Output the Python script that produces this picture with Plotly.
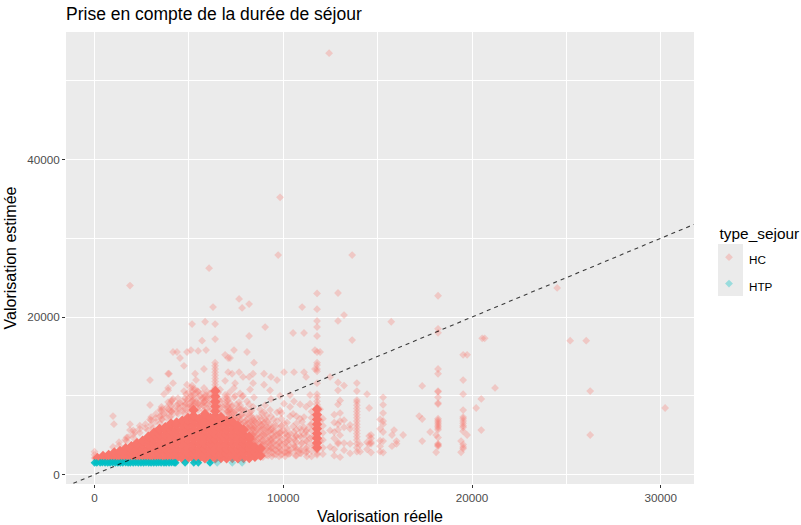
import plotly.graph_objects as go

# HC: one x per column, list of y read at that x (tariff stripes share an x)
hc_x = [
    0, 980, 1030, 1620, 1780, 1880, 2150, 2840, 2940, 3100, 3470, 3580, 3680, 3900, 3950, 4000, 4100, 4160,
    4370, 4530, 4740, 4800, 4850, 4900, 5060, 5110, 5170, 5330, 5380, 5490, 5590, 5700, 5800, 5860, 5910,
    6070, 6120, 6280, 6390, 6650, 6920, 7080, 7180, 7290, 7390, 7450, 7660, 7710, 7820, 7870, 8080, 8190,
    8240, 8400, 8450, 8770, 8980, 9040, 9300, 9350, 9670, 9730, 9830, 10040, 10360, 10520, 10570, 10890,
    11000, 11100, 11210, 11420, 11680, 11790, 11950, 12430, 12480, 12900, 13010, 13220, 13540, 13650, 13900,
    14070, 14440, 14550, 14650, 15130, 15290, 15720, 15760, 15870, 16000, 16350, 17200, 17360, 17780, 18100,
    18200, 19420, 19530, 19740, 20220, 20490, 20540, 20670, 21220, 24510, 25200, 26050, 26260, 30230,
]
hc_y = [
    [2100, 2500, 2900], [7430, 3500], [6400], [4380], [4760], [24000, 6400, 5650], [5400], [5650], [12000, 8830, 7000], [5900],
    [8200, 7400, 6500], [8300, 7000], [10200, 7700], [12800, 11000, 10700, 9200, 8300], [12800], [9000, 8100, 7300], [9460, 8000], [15560, 11600, 9590, 8300],
    [15560, 8800, 7900], [14800, 9100, 8400], [13800, 10600, 7800], [8830, 9700], [10200, 9000, 8200], [15560, 11400, 9500], [8700, 7800], [15800, 11000, 10000], [19100, 11300, 9300, 8600], [12800, 10800, 9100], [12000, 10400, 9300], [15700, 10500, 9000, 8200], [8800, 10000], [17000, 9700], [13400, 11000, 9200], [19400, 9400], [15800, 9800, 10100],
    [26200, 9000, 8200], [9600, 10300], [21270, 10600], [19100, 17200, 14200, 13800, 13400, 13000, 12600, 12200, 11800, 11400, 11000, 10600, 10200, 9800, 9400], [10800, 9300, 8500], [15200, 11900, 10100, 8800], [14800, 13000, 9500, 8000], [14800, 10500, 9100, 8300], [12800, 8700, 7700], [15800, 11000, 9800, 7200], [11600, 10000, 8000], [22300, 13000, 9200, 8400, 7400], [10300, 8800, 6900], [21150, 9900, 7600, 6400], [12400, 10000, 8200], [15560, 9300, 7000, 5900],
    [21650, 17590, 12400, 8900, 7500, 6600, 5700], [10800, 7900, 6200, 5100], [12800, 11600, 8600, 7100, 5800, 4900, 4200], [14200, 9800, 6800, 6100, 5300, 4400, 3800], [8300, 7300, 6400, 5600, 4700, 3900, 3300], [12800, 11400, 7900, 6600, 5000, 4200, 3000], [18730, 8800, 7100, 5900, 5200, 3700], [10700, 8200, 6300, 5500, 4600, 3900, 3100], [12400, 9600, 7400, 5700, 4300, 3400], [12000, 7900, 6800, 5000, 3700, 2900], [27870], [35200, 10000, 8100, 6000, 5300, 4200, 3300], [13000, 9000, 6500, 5600, 3900, 2800], [10100, 8600, 7400, 5200, 4400, 3100, 2700], [17970, 7700, 6100, 3800], [13000, 9300, 5400, 4600, 3500], [8900, 7100, 5900, 4900, 3100, 2700],
    [21270, 6700, 4000], [17970, 13000, 7300, 6000, 5100], [12400, 8600, 5500, 4300, 3300, 2800], [10100, 9000, 6300, 4600], [15800, 13400, 5900, 4800, 3700], [23000, 21000, 19500, 18730, 17590, 15560, 14200, 13900, 13400, 13100, 11600, 10200, 9800, 9300, 8900, 8500, 8100, 7700, 7300, 6900, 6500, 6100, 5700, 5300, 4900, 4600, 4300, 4000, 3700, 3400, 3100, 2700, 2500, 4500, 5100, 5900, 6700, 7500],
    [15560, 8300, 6900, 4300], [53500], [12400, 5600, 3500], [23050, 19500, 11700, 10700, 8900, 6400, 5700, 4100, 3900], [9400, 7800, 6800, 5000, 2200], [20250, 11300, 6900, 6000, 4000, 3100], [6300, 5800, 3900, 2700], [27870, 17080], [11620, 10600, 9460, 9200, 8800, 8400, 8000, 7600, 7200, 6800, 6400, 6000, 5600, 5200, 4800, 4400, 3900, 3400, 2900],
    [3800, 2900], [10200, 4100, 3200], [8450, 4900, 3900], [5020, 4600, 4100, 3900, 2800], [7000, 5800, 4300, 3600, 2900], [9800, 8850, 7810, 6800, 6400, 5400, 4250, 2800], [19400], [5020, 3600], [5650], [4250, 3900], [5020], [7430], [11250, 7050, 4250], [5400], [5020, 2830],
    [22700, 18500, 18000, 13400, 12800, 10600, 10500, 9800, 9080, 8950, 7100, 6900, 6700, 6500, 6300, 6100, 5900, 5700, 4700, 3900, 3800, 3700, 3600],
    [4250, 2830], [15200, 12000, 10200, 8190, 7300, 7100, 6800, 6500, 6200, 6000, 5500, 3800, 3500, 3300], [15200, 5020], [8450], [5650, 9600], [17300], [17300], [11000], [23700], [17000], [17000], [10600, 5020], [8450],
]
# second reading of the busy cloud, right of the solid mass and just above it
cloud_x = [
    1300, 1700, 2050, 2400, 2700, 3000, 3250, 3550, 3820, 4080, 4420, 4680, 4980, 5230, 5470, 5720, 5970, 6230, 6550, 6780,
    7010, 7240, 7520, 7760, 8010, 8320, 8600, 8860, 9120, 9480, 9900, 10200, 10700, 11500, 12100, 12700,
]
cloud_y = [
    [3700, 4100], [4300, 4700], [4700, 5100, 5600], [5300, 5800, 6200], [5900, 6400], [6300, 6900, 7300], [6700, 7200, 7700], [7000, 7500, 8100, 8600], [7200, 7800, 8500], [7500, 8000, 8700, 9300], [7700, 8400, 9000, 9700], [8100, 8700, 9300], [8300, 8900, 9600, 10400], [8700, 9400, 10100, 10900], [8500, 9000, 9800, 10600], [8800, 9500, 10300], [8400, 8900, 9700, 10500], [8300, 9100, 9900], [8200, 8800, 9600, 10400], [7900, 8600, 9400],
    [7500, 8200, 8900, 9700], [7300, 7900, 8600], [6900, 7500, 8200, 8900], [6400, 7000, 7600, 8300], [5600, 6200, 6800, 7500, 8200], [2600, 3300, 4000, 4700, 5300, 6000, 6700, 7400, 8100], [2400, 3100, 3700, 4400, 5100, 5800, 6500, 7200], [2700, 3500, 4200, 4900, 5700, 6300, 7000, 7800], [2500, 3200, 3900, 4500, 5300, 6000, 6800, 7500], [2600, 3300, 4100, 4800, 5500, 6200, 7000], [2500, 3000, 3800, 4600, 5400, 6200, 7100, 7800], [2700, 3400, 4200, 5000, 5800, 6600], [2400, 3200, 4100, 4900, 5700, 6500, 7400], [2300, 3000, 3800, 4700, 5600, 6400, 7200, 8000], [2600, 3400, 4400, 5300, 6200, 7100], [2400, 3200, 4600, 5400, 6600, 7600],
]
# busiest stretch between 7000 and 11000, read a third time
busy_x = [7130, 7350, 7600, 7950, 8120, 8370, 8520, 8700, 8920, 9200, 9400, 9600, 9780, 10100, 10300, 10650, 10950, 11250, 5180, 5800, 7030]
busy_y = [
    [6500, 7200, 7700, 8200], [6000, 6600, 7100, 7900], [5500, 6100, 6700, 7200], [3200, 3900, 4600, 5200, 5800, 6600], [2600, 3000, 3700, 4400, 5100, 5900, 6500], [2300, 2800, 3400, 3900, 4500, 5000, 5600, 6200, 6900], [2500, 3000, 3600, 4200, 4800, 5400, 6000, 6700], [2300, 2900, 3300, 4000, 4600, 5200, 5900, 6600], [2200, 2700, 3300, 3800, 4400, 5100, 5800, 6400], [2400, 3000, 3500, 4100, 4700, 5400, 6000, 6700], [2300, 2800, 3400, 4000, 4600, 5100, 5800], [2500, 3100, 3700, 4300, 4900, 5500, 6200], [2300, 2900, 3500, 4100, 4800, 5300], [2300, 2800, 3400, 4100, 4700, 5200], [2600, 3100, 3700, 4400, 5000], [2400, 3000, 3500, 4300, 4900], [2700, 3200, 3900, 4700, 5500], [2300, 2900, 3500, 4200, 5000, 5700],
    [8300, 8800, 9400, 9900, 10500], [8100, 8700, 9200, 9800], [8000, 8600, 9300, 10000],
]
# solid mass near the diagonal, read as columns up to its upper edge
core_x = [
    150, 450, 750, 1050, 1350, 1650, 1950, 2250, 2550, 2850, 3150, 3450, 3750, 4050, 4350, 4650, 4950,
    5250, 5550, 5850, 6150, 6400, 6700, 7000, 7300, 7600, 7900, 8200, 8500, 8800, 11790,
]
core_y = [
    [2100], [2050, 2350], [2100, 2500], [2050, 2500, 2800], [2100, 2600, 3000], [2050, 2550, 3050, 3350], [2100, 2650, 3150, 3600],
    [2050, 2600, 3200, 3750, 4000], [2100, 2700, 3250, 3850, 4300], [2050, 2650, 3200, 3800, 4400, 4800], [2100, 2700, 3300, 3900, 4500, 5100, 5300],
    [2050, 2650, 3250, 3850, 4450, 5050, 5650, 5800], [2100, 2700, 3300, 3900, 4500, 5100, 5700, 6000], [2050, 2650, 3250, 3850, 4450, 5050, 5650, 6250, 6500],
    [2100, 2700, 3300, 3900, 4500, 5100, 5700, 6300, 6600], [2050, 2650, 3250, 3850, 4450, 5050, 5650, 6250, 6850], [2100, 2700, 3300, 3900, 4500, 5100, 5700, 6300, 6900, 7200],
    [2050, 2650, 3250, 3850, 4450, 5050, 5650, 6250, 6850, 7450, 8200], [2100, 2700, 3300, 3900, 4500, 5100, 5700, 6300, 6900, 7100], [2050, 2650, 3250, 3850, 4450, 5050, 5650, 6250, 6850, 7450, 7700],
    [2100, 2700, 3300, 3900, 4500, 5100, 5700, 6300, 6900, 7200], [2050, 2650, 3250, 3850, 4450, 5050, 5650, 6250, 6850, 7450, 8050, 8650, 9250, 9900, 10600],
    [2100, 2700, 3300, 3900, 4500, 5100, 5700, 6300, 6900, 7300], [2050, 2650, 3250, 3850, 4450, 5050, 5650, 6250, 6800],
    [2100, 2700, 3300, 3900, 4500, 5100, 5700, 6300, 6700], [2050, 2650, 3250, 3850, 4450, 5050, 5650, 6200], [2100, 2700, 3300, 3900, 4500, 5100, 5700], [2100, 2700, 3300, 3900, 4500, 4800],
    [2250, 2850, 3450], [2400, 3300],
    [3400, 4000, 4600, 5200, 5800, 6400, 7000, 7600, 8300],
]
htp_x = [
    0, 120, 300, 420, 560, 700, 830, 960, 1100, 1240, 1370, 1500, 1650, 1780, 1900, 2050, 2180, 2320, 2460, 2600,
    2730, 2870, 3000, 3140, 3280, 3400, 3530, 3680, 3800, 3950, 4080, 4220, 4300, 4800, 5260, 5500, 6120, 6500, 7300, 7820,
]
htp_y = [
    1500, 1480, 1500, 1520, 1500, 1480, 1500, 1520, 1500, 1480, 1500, 1500, 1520, 1480, 1500, 1500, 1520, 1480, 1500, 1500,
    1520, 1500, 1480, 1500, 1500, 1520, 1500, 1480, 1500, 1500, 1520, 1500, 1500, 1500, 1500, 1500, 1500, 1500, 1500, 1500,
]
htp_fade = [6500, 7300, 7820]
diag = [-1510, 31760]

x_range = [-1510, 31760]
y_range = [-1200, 56190]


def flatten(cols_x, cols_y):
    xs, ys = [], []
    for x, col in zip(cols_x, cols_y):
        xs += [x] * len(col)
        ys += col
    return xs, ys


HC = '#F8766D'
HTP = '#00BFC4'
FONT = 'Liberation Sans'

fig = go.Figure()

px, py = flatten(hc_x + cloud_x + busy_x, hc_y + cloud_y + busy_y)
fig.add_trace(go.Scatter(x=px, y=py, mode='markers', name='<span style="font-size:11.7px">HC</span>',
                         marker=dict(symbol='diamond', size=6, color=HC, opacity=0.3, line=dict(width=0))))
cx, cy = flatten(core_x, core_y)
fig.add_trace(go.Scatter(x=cx, y=cy, mode='markers', showlegend=False,
                         marker=dict(symbol='diamond', size=8, color=HC, opacity=1, line=dict(width=0))))
solid_x = [v for v in htp_x if v not in htp_fade]
solid_y = [v for v, k in zip(htp_y, htp_x) if k not in htp_fade]
fig.add_trace(go.Scatter(x=solid_x, y=solid_y, mode='markers', showlegend=False,
                         marker=dict(symbol='diamond', size=6, color=HTP, opacity=0.9, line=dict(width=0))))
fig.add_trace(go.Scatter(x=htp_fade, y=[htp_y[k] for k in range(len(htp_x)) if htp_x[k] in htp_fade], mode='markers',
                         name='<span style="font-size:11.7px">HTP</span>',
                         marker=dict(symbol='diamond', size=6, color=HTP, opacity=0.35, line=dict(width=0))))
fig.add_trace(go.Scatter(x=diag, y=diag, mode='lines', showlegend=False, hoverinfo='skip',
                         line=dict(color='rgba(0,0,0,0.75)', width=1.1, dash='4px,4px')))

axis_common = dict(
    showgrid=True, gridcolor='white', gridwidth=1.1, zeroline=False, showline=False,
    ticks='outside', ticklen=3, tickwidth=1, tickcolor='#333333', automargin=False,
    tickfont=dict(family=FONT, size=11.7, color='#4D4D4D'), tickformat='d',
)

fig.update_layout(
    width=801, height=525,
    margin=dict(l=66, r=107, t=32, b=41, autoexpand=False),
    paper_bgcolor='white', plot_bgcolor='#EBEBEB',
    font=dict(family=FONT, color='black'),
    title=dict(text='Prise en compte de la durée de séjour', x=66 / 801, xanchor='left',
               y=1 - 14 / 525, yanchor='middle', font=dict(family=FONT, size=17.5, color='black')),
    xaxis=dict(range=x_range, tickmode='array', tickvals=[0, 10000, 20000, 30000],
               title=dict(text='Valorisation réelle', font=dict(family=FONT, size=16), standoff=8),
               minor=dict(tickmode='array', tickvals=[5000, 15000, 25000], showgrid=True, gridcolor='white', gridwidth=0.6, ticks=''),
               **axis_common),
    yaxis=dict(range=y_range, tickmode='array', tickvals=[0, 20000, 40000],
               title=dict(text='Valorisation estimée', font=dict(family=FONT, size=16), standoff=6),
               minor=dict(tickmode='array', tickvals=[10000, 30000, 50000], showgrid=True, gridcolor='white', gridwidth=0.6, ticks=''),
               **axis_common),
    legend=dict(x=(709 - 66) / 628, xanchor='left', y=1 - (219 - 32) / 452, yanchor='top',
                bgcolor='rgba(0,0,0,0)', font=dict(family=FONT, size=18, color='black'),
                title=dict(text='&nbsp;&nbsp;type_sejour', font=dict(family=FONT, size=15.4, color='black')),
                itemsizing='trace'),
    shapes=[dict(type='rect', xref='paper', yref='paper', layer='below', line=dict(width=0), fillcolor='#EBEBEB',
                 x0=(718 - 66) / 628, x1=(743 - 66) / 628, y0=1 - (296 - 32) / 452, y1=1 - (244 - 32) / 452)],
)

# the page keeps its default body margin otherwise
fig.write_html("out.html", config=dict(displayModeBar=False),
               post_script="document.body.style.margin='0';")
